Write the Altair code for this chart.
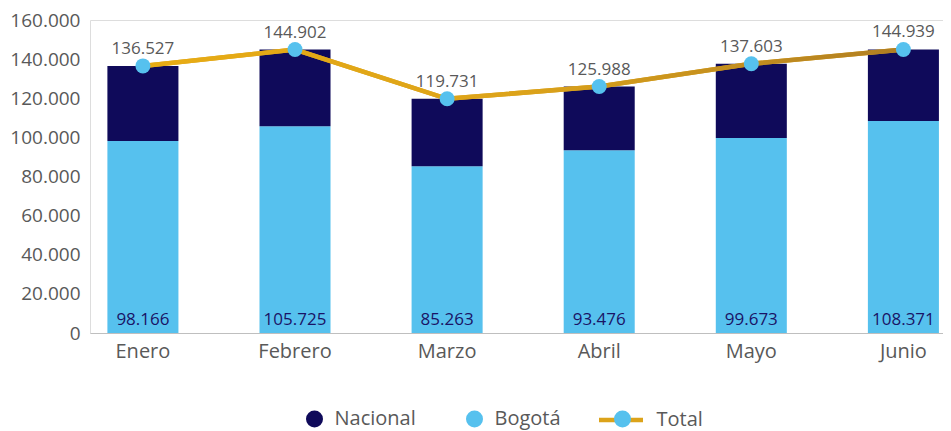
import altair as alt
import pandas as pd

# ---- data ----
meses = ["Enero", "Febrero", "Marzo", "Abril", "Mayo", "Junio"]
bogota = [98166, 105725, 85263, 93476, 99673, 108371]
total = [136527, 144902, 119731, 125988, 137603, 144939]
nacional = [t - b for t, b in zip(total, bogota)]
y_ticks = [0, 20000, 40000, 60000, 80000, 100000, 120000, 140000, 160000]
series_bars = ["Nacional", "Bogotá"]
series_line = ["Total"]
series_marker = ["Total (marcador)"]


def fmt(v):
    return f"{v:,}".replace(",", ".")


bars_df = pd.DataFrame({
    "mes": meses * 2,
    "serie": ["Bogotá"] * len(meses) + ["Nacional"] * len(meses),
    "valor": bogota + nacional,
    "orden": [0] * len(meses) + [1] * len(meses),
})
tot_df = pd.DataFrame({
    "mes": meses,
    "total": total,
    "base": [0] * len(meses),
    "serie_linea": series_line * len(meses),
    "serie_punto": series_marker * len(meses),
    "total_lbl": [fmt(v) for v in total],
    "bog_lbl": [fmt(v) for v in bogota],
})

FONT = "Open Sans"
GREY = "#595959"
NAVY = "#0F0A5A"
LBLUE = "#56C1EE"
GOLD = "#DCA31A"
LBL_NAVY = "#1A1466"

gradient = alt.LinearGradient(
    gradient="linear",
    stops=[
        alt.GradientStop(color="#E8AC14", offset=0),
        alt.GradientStop(color="#DCA31A", offset=0.5),
        alt.GradientStop(color="#B07E22", offset=1),
    ],
    x1=0, x2=1, y1=0, y2=0,
)

x_enc = alt.X(
    "mes:N", sort=meses, title=None,
    scale=alt.Scale(paddingInner=0.533, paddingOuter=0.0706, align=0.81),
    axis=alt.Axis(labelAngle=0, labelFontSize=20, labelColor=GREY, labelFont=FONT,
                  ticks=False, tickSize=0, domainColor="#BFBFBF", domainWidth=1,
                  labelPadding=8),
)
y_scale = alt.Scale(domain=[0, 160000], nice=False)
y_axis = alt.Axis(values=y_ticks, grid=False, domain=False, ticks=False,
                  labelFontSize=19, labelFont=FONT, labelColor=GREY,
                  labelPadding=10, labelOffset=0, labelOverlap=False,
                  labelFlush=False,
                  labelExpr="replace(format(datum.value, ','), regexp(',', 'g'), '.')")


def y_enc(field, **kw):
    return alt.Y(field, scale=y_scale, title=None, axis=y_axis, **kw)


legend_common = dict(orient="none", title=None, labelFontSize=20, labelFont=FONT,
                     labelColor=GREY)

bars = alt.Chart(bars_df).mark_bar().encode(
    x=x_enc,
    y=y_enc("valor:Q", stack="zero"),
    color=alt.Color("serie:N",
                    scale=alt.Scale(domain=series_bars, range=[NAVY, LBLUE]),
                    legend=alt.Legend(legendX=214.5, legendY=389, direction="horizontal",
                                      symbolType="circle", symbolSize=289,
                                      symbolStrokeWidth=0, labelOffset=10,
                                      columnPadding=48, **legend_common)),
    order=alt.Order("orden:Q"),
)

line_leg = alt.Chart(tot_df).mark_line(strokeWidth=4.5).encode(
    x=x_enc,
    y=y_enc("total:Q"),
    stroke=alt.Stroke("serie_linea:N",
                      scale=alt.Scale(domain=series_line, range=[GOLD]),
                      legend=alt.Legend(legendX=506.5, legendY=375.5, symbolType="stroke",
                                        symbolSize=1936, symbolStrokeWidth=4.5,
                                        labelOffset=11, zindex=1, **legend_common)),
)

line = alt.Chart(tot_df).mark_line(strokeWidth=4.5, color=gradient).encode(
    x=x_enc,
    y=y_enc("total:Q"),
)

points = alt.Chart(tot_df).mark_point(filled=True, size=225, color=LBLUE, opacity=1).encode(
    x=x_enc,
    y=y_enc("total:Q"),
    shape=alt.Shape("serie_punto:N",
                    scale=alt.Scale(domain=series_marker, range=["circle"]),
                    legend=alt.Legend(legendX=522.5, legendY=389, symbolSize=289,
                                      symbolStrokeWidth=0, labelExpr="''", zindex=2,
                                      **legend_common)),
)

tot_labels = alt.Chart(tot_df).mark_text(
    baseline="alphabetic", dy=-12, fontSize=17, font=FONT, color=GREY
).encode(
    x=x_enc,
    y=y_enc("total:Q"),
    text="total_lbl:N",
)

bog_labels = alt.Chart(tot_df).mark_text(
    baseline="alphabetic", dy=-8, fontSize=17, font=FONT, color=LBL_NAVY
).encode(
    x=x_enc,
    y=y_enc("base:Q"),
    text="bog_lbl:N",
)

chart = alt.layer(bars, line_leg, line, points, tot_labels, bog_labels).properties(
    width=853, height=313,
    padding={"left": 82, "top": 12, "right": 0, "bottom": 98},
    autosize=alt.AutoSizeParams(type="none"),
).configure_view(stroke=None).configure(font=FONT)

chart.save("out.html", embed_options={"renderer": "svg", "actions": False})
